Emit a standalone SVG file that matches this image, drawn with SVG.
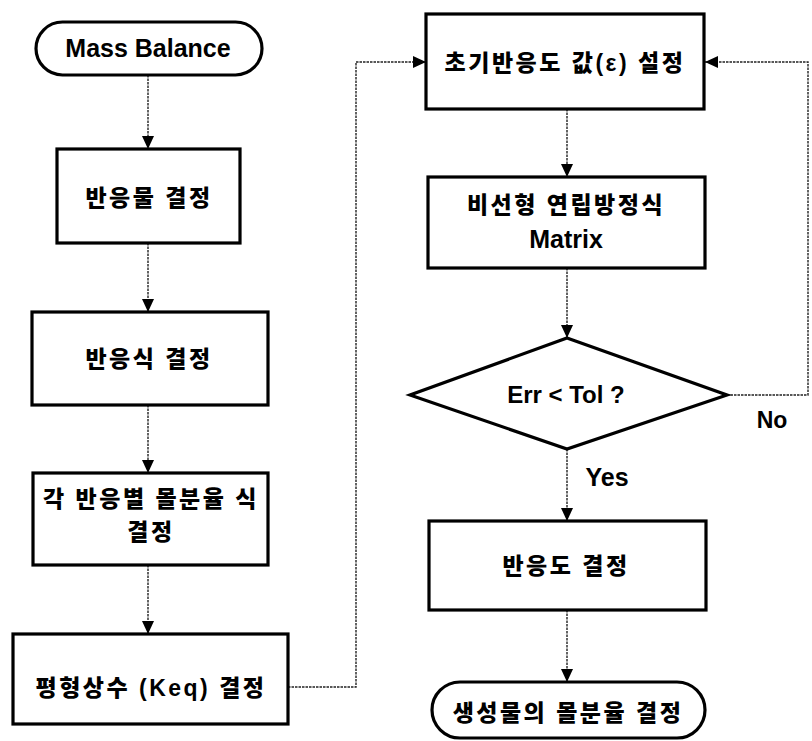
<svg xmlns="http://www.w3.org/2000/svg" width="812" height="741" viewBox="0 0 812 741">
<style>
.box{fill:#fff;stroke:#000;stroke-width:3.2}
.t{font-family:"Liberation Sans","Noto Sans CJK KR",sans-serif;font-weight:bold;fill:#000;text-anchor:middle}
.k{font-size:23px;letter-spacing:2.5px;font-weight:900}
.e{font-size:25px}
.c{fill:none;stroke:#222;stroke-width:1.4;stroke-dasharray:2.5 1}
</style>
<defs>
<marker id="ah" markerUnits="userSpaceOnUse" markerWidth="14" markerHeight="12" refX="13" refY="6" orient="auto">
<path d="M0,0 L13,6 L0,12 Z" fill="#000"/>
</marker>
</defs>
<rect width="812" height="741" fill="#fff"/>
<g id="connectors">
<path class="c" d="M148,75 V149" marker-end="url(#ah)"/>
<path class="c" d="M148,243 V312" marker-end="url(#ah)"/>
<path class="c" d="M148,405 V473" marker-end="url(#ah)"/>
<path class="c" d="M148,565 V634" marker-end="url(#ah)"/>
<path class="c" d="M288,687 H356 V62 H426" marker-end="url(#ah)"/>
<path class="c" d="M567,109 V177" marker-end="url(#ah)"/>
<path class="c" d="M567,268 V338" marker-end="url(#ah)"/>
<path class="c" d="M727,395 H808 V62 H705" marker-end="url(#ah)"/>
<path class="c" d="M567,449 V521" marker-end="url(#ah)"/>
<path class="c" d="M567,610 V682" marker-end="url(#ah)"/>
</g>
<g id="n-mass">
<rect class="box" x="36" y="22" width="226" height="53" rx="26.5"/>
<text class="t" x="148" y="57" font-size="25">Mass Balance</text>
</g>
<g id="n-reactant">
<rect class="box" x="57" y="149" width="183" height="94"/>
<text class="t k" x="149" y="206">반응물 결정</text>
</g>
<g id="n-reaction">
<rect class="box" x="32" y="312" width="236" height="93"/>
<text class="t k" x="149" y="367">반응식 결정</text>
</g>
<g id="n-molfrac">
<rect class="box" x="33" y="473" width="235" height="92"/>
<text class="t k" x="151" y="507">각 반응별 몰분율 식</text>
<text class="t k" x="151" y="540">결정</text>
</g>
<g id="n-keq">
<rect class="box" x="13" y="634" width="275" height="90"/>
<text class="t k" x="151" y="696">평형상수 (Keq) 결정</text>
</g>
<g id="n-init">
<rect class="box" x="426" y="14" width="278" height="95"/>
<text class="t k" x="565" y="71">초기반응도 값(ε) 설정</text>
</g>
<g id="n-matrix">
<rect class="box" x="428" y="177" width="277" height="91"/>
<text class="t k" x="566" y="213">비선형 연립방정식</text>
<text class="t e" x="566" y="248">Matrix</text>
</g>
<g id="n-decision">
<polygon class="box" points="567,338 727,395 567,449 410,395"/>
<text class="t" x="566" y="403" font-size="24">Err &lt; Tol ?</text>
</g>
<g id="labels">
<text class="t" x="772" y="428" font-size="23">No</text>
<text class="t" x="607" y="486" font-size="25">Yes</text>
</g>
<g id="n-extent">
<rect class="box" x="429" y="521" width="277" height="89"/>
<text class="t k" x="566" y="574">반응도 결정</text>
</g>
<g id="n-product">
<rect class="box" x="432" y="682" width="273" height="56" rx="28"/>
<text class="t k" x="568" y="721">생성물의 몰분율 결정</text>
</g>
</svg>
